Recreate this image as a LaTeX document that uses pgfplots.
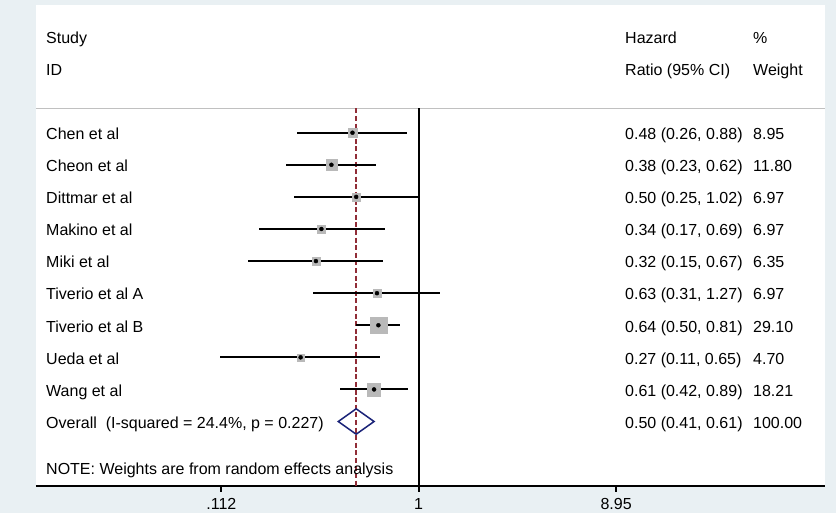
\documentclass[border=0pt]{standalone}
\usepackage{fontspec}
\setmainfont{Liberation Sans}
\usepackage{pgfplots}
\pgfplotsset{compat=1.18}
\usepackage{pgfplotstable}

\definecolor{bgblue}{RGB}{233,240,243}
\definecolor{boxgray}{RGB}{185,185,185}
\definecolor{sepgray}{RGB}{192,192,192}
\definecolor{refred}{RGB}{145,45,55}
\definecolor{navy}{RGB}{26,35,120}

% row: 10 = first study, 1 = overall
\pgfplotstableread{
row hr   lo   hi   w
10  0.48 0.26 0.88 8.95
9   0.38 0.23 0.62 11.80
8   0.50 0.25 1.02 6.97
7   0.34 0.17 0.69 6.97
6   0.32 0.15 0.67 6.35
5   0.63 0.31 1.27 6.97
4   0.64 0.50 0.81 29.10
3   0.27 0.11 0.65 4.70
2   0.61 0.42 0.89 18.21
}\studies

\newcommand{\txt}{\fontsize{16}{19}\selectfont}

\begin{document}
\begin{tikzpicture}[x=1pt,y=1pt]
\fill[bgblue] (0,0) rectangle (836,513);
\useasboundingbox (0,0) rectangle (836,513);
\fill[white] (36,27.3) rectangle (825,508.3);
\begin{axis}[
    at={(36pt,27.3pt)}, anchor=south west,
    scale only axis, width=789pt, height=481pt,
    xmode=log, xmin=0.01432, xmax=90.9,
    ymin=-1, ymax=13.99,
    axis y line=none, axis x line*=bottom,
    axis line style={line width=2pt, black},
    xtick={0.112,1,8.95}, xticklabels={.112,1,8.95},
    minor xtick={},
    xtick align=outside,
    major tick length=6pt,
    every tick/.style={line width=2pt, black},
    xticklabel style={font=\txt, inner sep=0pt, text height=11.5pt, text depth=0pt, yshift=-6.5pt},
    /pgf/number format/assume math mode=true,
    clip=false,
]
% separator under the header
\draw[sepgray, line width=1.5pt] ({rel axis cs:0,0}|-{axis cs:1,10.76}) -- ({rel axis cs:1,0}|-{axis cs:1,10.76});
% tick marks below the axis line
\pgfplotsinvokeforeach{0.112,1,8.95}{
  \draw[black, line width=2pt] (axis cs:#1,-1) -- ([yshift=-6pt]axis cs:#1,-1);
}
% line of no effect and overall estimate
\addplot[black, line width=2pt] coordinates {(1,10.76) (1,-1)};
\addplot[refred, line width=1.8pt, dash pattern=on 5pt off 2.6pt] coordinates {(0.50,10.76) (0.50,-1)};
% confidence intervals
\addplot[draw=none, mark=none,
    error bars/.cd, x dir=both, x explicit, error mark=none,
    error bar style={line width=2pt, black}]
  table[x=hr, y=row,
        x error plus expr=\thisrow{hi}-\thisrow{hr},
        x error minus expr=\thisrow{hr}-\thisrow{lo}] \studies;
% weight boxes
\addplot[only marks, mark=square*, scatter,
    scatter/use mapped color={draw=boxgray, fill=boxgray},
    visualization depends on={1.55*sqrt(\thisrow{w}) \as \bsize},
    scatter/@pre marker code/.append style={/tikz/mark size=\bsize}]
  table[x=hr, y=row] \studies;
% point estimates
\addplot[only marks, mark=*, mark size=2pt, black] table[x=hr, y=row] \studies;
% overall diamond
\addplot[navy, line width=1.5pt] coordinates {(0.41,1) (0.50,1.396) (0.61,1) (0.50,0.604)} -- cycle;
\end{axis}

\begin{scope}[every node/.style={anchor=base west, inner sep=0pt, font=\txt}]
\node at (46,469) {Study};
\node at (46,437.2) {ID};
\node at (625,469) {Hazard};
\node at (753,469) {\%};
\node at (625,437.2) {Ratio (95\% CI)};
\node at (753,437.2) {Weight};
\foreach \name/\ci/\wt [count=\i from 0] in {
    Chen et al/{0.48 (0.26, 0.88)}/8.95,
    Cheon et al/{0.38 (0.23, 0.62)}/11.80,
    Dittmar et al/{0.50 (0.25, 1.02)}/6.97,
    Makino et al/{0.34 (0.17, 0.69)}/6.97,
    Miki et al/{0.32 (0.15, 0.67)}/6.35,
    Tiverio et al A/{0.63 (0.31, 1.27)}/6.97,
    Tiverio et al B/{0.64 (0.50, 0.81)}/29.10,
    Ueda et al/{0.27 (0.11, 0.65)}/4.70,
    Wang et al/{0.61 (0.42, 0.89)}/18.21,
    {Overall\ \ (I-squared = 24.4\%, p = 0.227)}/{0.50 (0.41, 0.61)}/100.00}{
  \node at (46,373.5-32.1*\i) {\name};
  \node at (625,373.5-32.1*\i) {\ci};
  \node at (753,373.5-32.1*\i) {\wt};
}
\node at (46,38) {NOTE: Weights are from random effects analysis};
\end{scope}
\end{tikzpicture}
\end{document}
